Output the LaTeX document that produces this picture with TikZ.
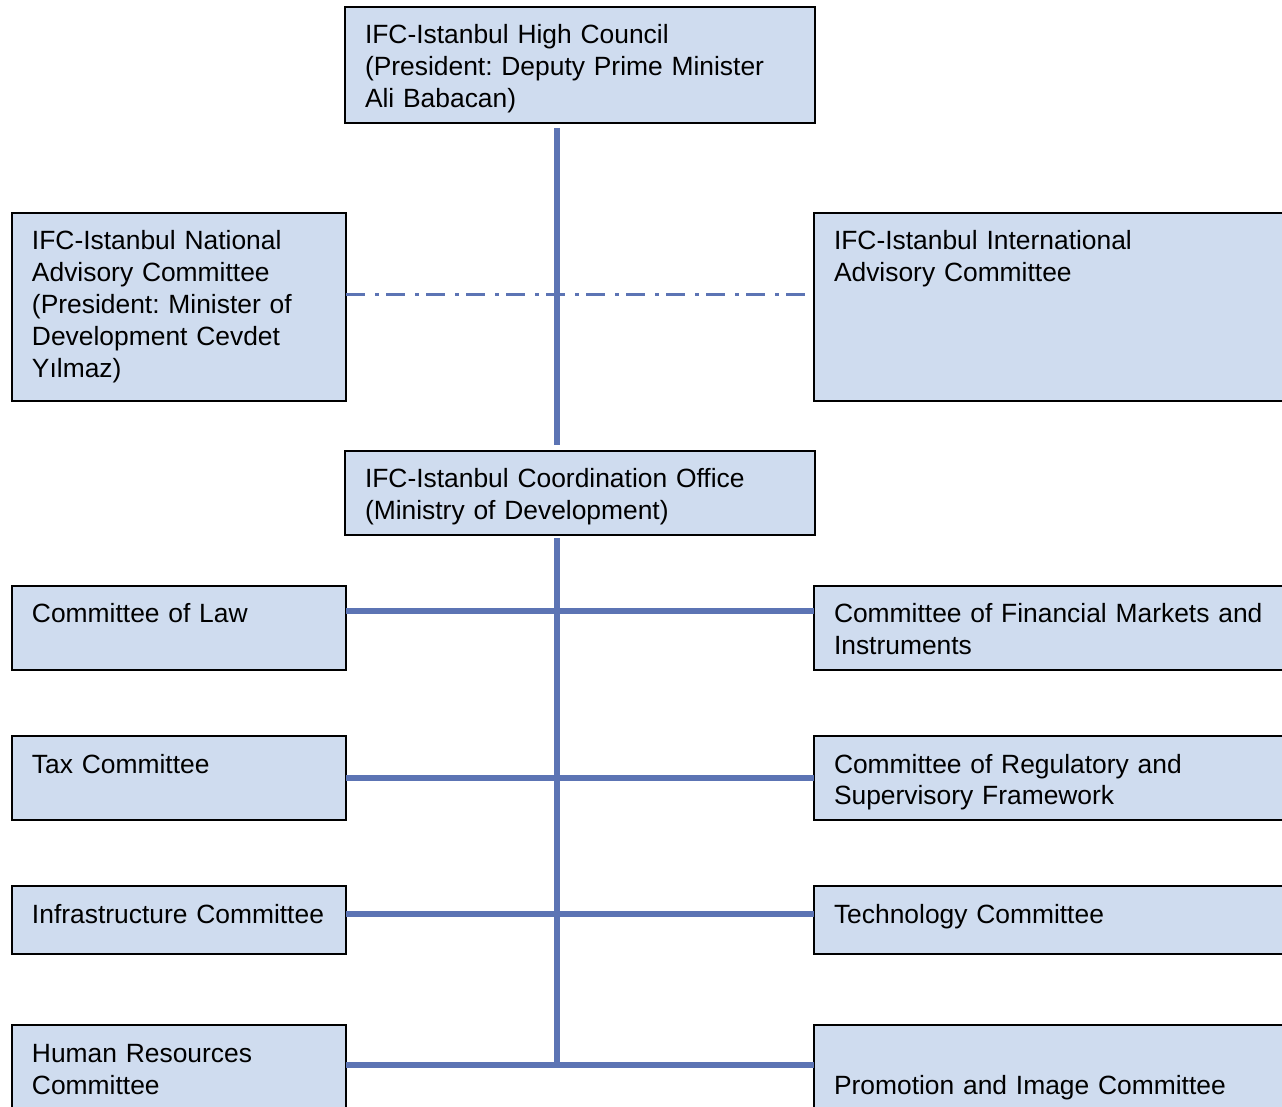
\documentclass[tikz,border=0pt]{standalone}
\usepackage{fontspec}
\setmainfont{Liberation Sans}
\usepackage{tikz}
\frenchspacing
\definecolor{unitfill}{RGB}{207,220,239}
\definecolor{linkblue}{RGB}{92,116,180}
\tikzset{
  org-unit/.style={draw=black, fill=unitfill, line width=1pt, anchor=north west,
    outer sep=0pt, inner xsep=10pt, inner ysep=0pt, align=left,
    font=\fontsize{13.2pt}{16pt}\selectfont, text height=18.5pt},
  org-link/.style={draw=linkblue, line width=2.8pt},
  org-advisory/.style={draw=linkblue, line width=1.5pt,
    dash pattern=on 9.5pt off 5pt on 2pt off 3.5pt}
}

\begin{document}
\begin{tikzpicture}[x=0.5pt, y=-0.5pt]
  \useasboundingbox (0,0) rectangle (1282,1107);

  % Council, advisory bodies and coordination office
  \node[org-unit, text width=215pt, text depth=39.5pt] (council) at (345,7)
    {IFC-Istanbul High Council\\(President: Deputy Prime Minister\\Ali Babacan)};
  \node[org-unit, text width=147pt, text depth=75.5pt] (national) at (12,213)
    {IFC-Istanbul National\\Advisory Committee\\(President: Minister of\\Development Cevdet\\Yılmaz)};
  \node[org-unit, text width=230pt, text depth=75.5pt] (intl) at (814,213)
    {IFC-Istanbul International\\Advisory Committee};
  \node[org-unit, text width=215pt, text depth=23.5pt] (office) at (345,451)
    {IFC-Istanbul Coordination Office\\(Ministry of Development)};

  % Committees, left column
  \node[org-unit, text width=147pt, text depth=23.5pt] (law) at (12,586) {Committee of Law};
  \node[org-unit, text width=147pt, text depth=23.5pt] (tax) at (12,736) {Tax Committee};
  \node[org-unit, text width=147pt, text depth=15.5pt] (infra) at (12,886) {Infrastructure Committee};
  \node[org-unit, text width=147pt, text depth=31.5pt] (hr) at (12,1025) {Human Resources\\Committee};

  % Committees, right column
  \node[org-unit, text width=230pt, text depth=23.5pt] (markets) at (814,586)
    {Committee of Financial Markets and\\Instruments};
  \node[org-unit, text width=230pt, text depth=23.5pt] (regulatory) at (814,736)
    {Committee of Regulatory and\\Supervisory Framework};
  \node[org-unit, text width=230pt, text depth=15.5pt] (tech) at (814,886) {Technology Committee};
  \node[org-unit, text width=230pt, text height=34.75pt, text depth=15.25pt] (promo) at (814,1025)
    {Promotion and Image Committee};

  % Spine and branches
  \coordinate (trunk) at (557,0);
  \draw[org-advisory] ([yshift=6pt]national.east) -- ([yshift=6pt,xshift=-3pt]intl.west);
  \draw[org-link] ([yshift=-2.5pt]council.south -| trunk) -- ([yshift=3pt]office.north -| trunk);
  \draw[org-link] ([yshift=-1.5pt]office.south -| trunk) -- ([yshift=5pt]hr.east -| trunk);
  \foreach \l/\r/\dy in {law/markets/8.5pt, tax/regulatory/0pt, infra/tech/3pt, hr/promo/5pt}
    \draw[org-link] ([yshift=\dy]\l.east) -- ([yshift=\dy]\r.west);
\end{tikzpicture}
\end{document}
